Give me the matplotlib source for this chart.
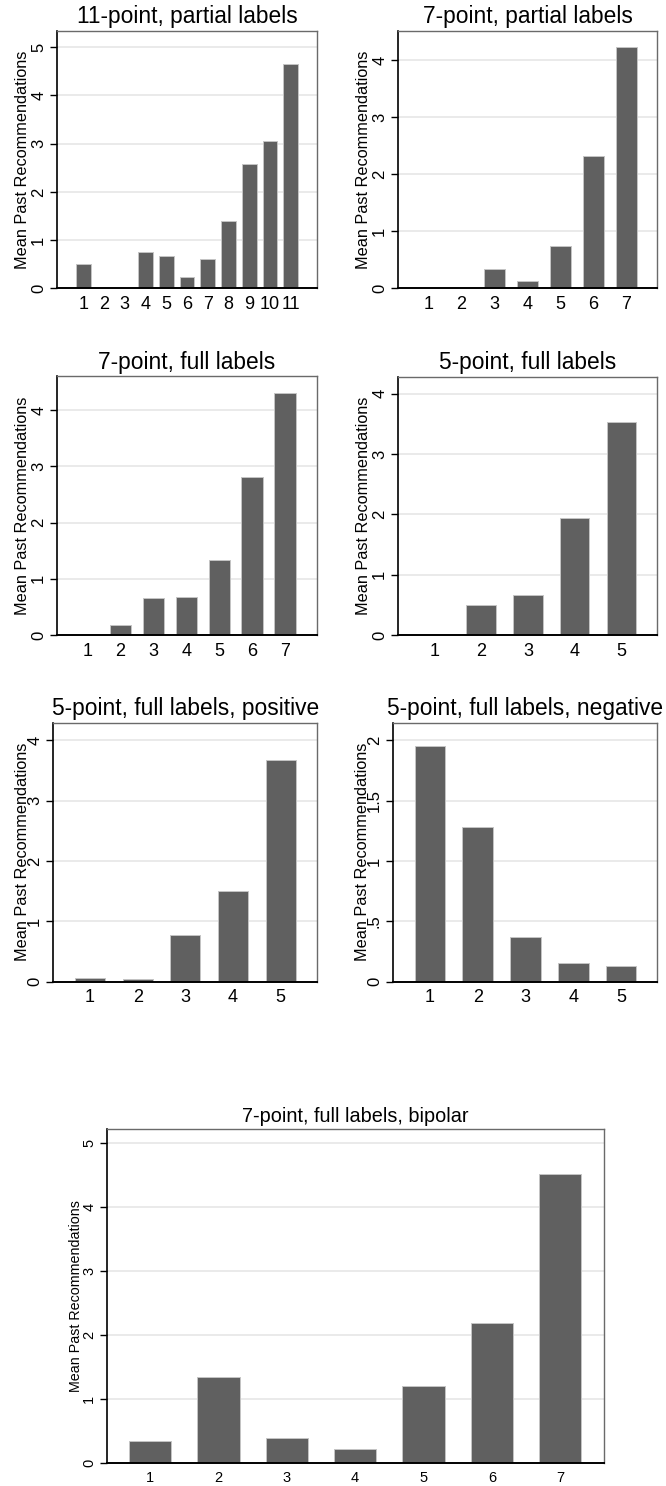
import matplotlib
matplotlib.use("Agg")
import matplotlib.pyplot as plt

plt.rcParams['font.family'] = ['Liberation Sans', 'DejaVu Sans']

# ---------------- data ----------------
titles = [
    "11-point, partial labels",
    "7-point, partial labels",
    "7-point, full labels",
    "5-point, full labels",
    "5-point, full labels, positive",
    "5-point, full labels, negative",
    "7-point, full labels, bipolar",
]
cats_11 = [1, 2, 3, 4, 5, 6, 7, 8, 9, 10, 11]
cats_7 = [1, 2, 3, 4, 5, 6, 7]
cats_5 = [1, 2, 3, 4, 5]

vals_11pt_partial = [0.50, 0.0, 0.0, 0.75, 0.67, 0.235, 0.61, 1.40, 2.58, 3.05, 4.64]
vals_7pt_partial = [0.0, 0.0, 0.345, 0.13, 0.74, 2.32, 4.23]
vals_7pt_full = [0.0, 0.18, 0.65, 0.68, 1.33, 2.82, 4.31]
vals_5pt_full = [0.0, 0.50, 0.66, 1.94, 3.53]
vals_5pt_pos = [0.066, 0.05, 0.77, 1.51, 3.68]
vals_5pt_neg = [1.953, 1.282, 0.367, 0.155, 0.13]
vals_7pt_bipolar = [0.344, 1.344, 0.39, 0.23, 1.21, 2.19, 4.52]

yticks_1 = [0, 1, 2, 3, 4, 5]
yticks_2 = [0, 1, 2, 3, 4]
yticks_neg = [0, 0.5, 1, 1.5, 2]
yticklabels_neg = ["0", ".5", "1", "1.5", "2"]

ylabel = "Mean Past Recommendations"

# ---------------- layout / style ----------------
W, H = 666, 1486
fig = plt.figure(figsize=(W / 100, H / 100), dpi=100)

BAR = "#606060"
EDGE = "#c4c4c4"
GRID = "#e6e6e6"


def add_ax(l, t, r, b):
    return fig.add_axes([l / W, 1 - b / H, (r - l) / W, (b - t) / H])


panels = [
    # box(l,t,r,b), cats, vals, title, yticks, yticklabels, ylim, xlim, width, lab_off, big
    ((57.3, 30.7, 316.7, 288.3), cats_11, vals_11pt_partial, titles[0], yticks_1, None, 5.34, (-0.25, 12.25), 0.71, -26.9, False),
    ((398.3, 30.7, 657, 288.3), cats_7, vals_7pt_partial, titles[1], yticks_2, None, 4.52, (0.08, 7.93), 0.63, -26.9, False),
    ((57.3, 376, 316.7, 635), cats_7, vals_7pt_full, titles[2], yticks_2, None, 4.61, (0.08, 7.96), 0.65, -26.9, False),
    ((398.3, 376.7, 657, 635), cats_5, vals_5pt_full, titles[3], yticks_2, None, 4.28, (0.23, 5.76), 0.625, -26.9, False),
    ((53.3, 722.7, 317.3, 981.7), cats_5, vals_5pt_pos, titles[4], yticks_2, None, 4.29, (0.23, 5.77), 0.63, -23.2, False),
    ((393, 722.7, 657, 981.7), cats_5, vals_5pt_neg, titles[5], yticks_neg, yticklabels_neg, 2.146, (0.23, 5.75), 0.64, -23.2, False),
    ((107.3, 1129.3, 604, 1463.3), cats_7, vals_7pt_bipolar, titles[6], yticks_1, None, 5.22, (0.375, 7.64), 0.62, -24.3, True),
]

for box, cats, vals, title, yt, ytl, ytop, xlim, bw, lab_off, big in panels:
    ax = add_ax(*box)
    ax.bar(cats, vals, width=bw, color=BAR, edgecolor=EDGE, linewidth=0.7, zorder=2)
    ax.set_xlim(*xlim)
    ax.set_ylim(0, ytop)
    ax.set_xticks(cats)
    ax.set_xticklabels([str(c) for c in cats])
    ax.set_yticks(yt)
    if ytl is not None:
        ax.set_yticklabels(ytl)
    else:
        ax.set_yticklabels([str(v) for v in yt])
    ax.set_axisbelow(True)
    ax.yaxis.grid(True, color=GRID, linewidth=1.2)
    ax.xaxis.grid(False)

    xtick_fs = 10.5 if big else 13
    ytick_fs = 10.5 if big else 12
    lab_fs = 10.3 if big else 11.7
    title_fs = 14.3 if big else 16.4

    ax.tick_params(axis='x', length=0, pad=5.5, labelsize=xtick_fs, colors='black')
    ax.tick_params(axis='y', length=5, width=1, pad=3, labelsize=ytick_fs,
                   labelrotation=90, direction='out', colors='black')
    for lbl in ax.get_yticklabels():
        lbl.set_verticalalignment('center')

    ax.set_title(title, fontsize=title_fs, pad=5.3)
    ax.set_ylabel(ylabel, fontsize=lab_fs)
    width_px = box[2] - box[0]
    ax.yaxis.set_label_coords(lab_off / width_px, 0.5)

    ax.spines['left'].set_color('black')
    ax.spines['bottom'].set_color('black')
    ax.spines['left'].set_linewidth(1.2)
    ax.spines['bottom'].set_linewidth(1.4)
    ax.spines['top'].set_color('#6a6a6a')
    ax.spines['right'].set_color('#6a6a6a')
    ax.spines['top'].set_linewidth(1.0)
    ax.spines['right'].set_linewidth(1.0)

fig.savefig("out.png", dpi=100, facecolor='white')
